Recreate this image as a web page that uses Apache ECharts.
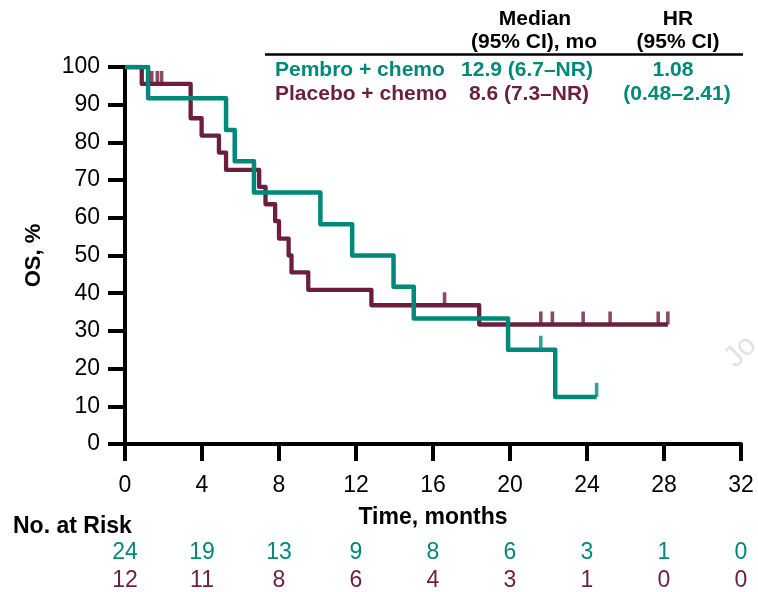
<!DOCTYPE html>
<html>
<head>
<meta charset="utf-8">
<script src="https://cdn.jsdelivr.net/npm/echarts@6/dist/echarts.min.js"></script>
<style>
html,body{margin:0;padding:0;background:#fff;}
#chart{width:758px;height:592px;}
</style>
</head>
<body>
<div id="chart"></div>
<script>
// ---- Data ----
const pembroT = [0, 1.2, 5.25, 5.7, 6.7, 10.15, 11.8, 13.95, 15.0, 19.9, 22.35, 24.5];
const pembroS = [100, 91.7, 83.3, 75.0, 66.7, 58.3, 50.0, 41.7, 33.3, 25.0, 12.5, 12.5];
const pembroCensT = [21.6, 24.5];
const pembroCensS = [25.0, 12.5];

const placeboT = [0, 0.87, 3.41, 3.98, 4.88, 5.25, 6.97, 7.3, 7.8, 8.0, 8.5, 8.65, 9.52, 12.8, 18.4, 28.2];
const placeboS = [100, 95.5, 86.4, 81.8, 77.3, 72.7, 68.2, 63.6, 59.1, 54.5, 50.0, 45.5, 40.9, 36.8, 31.7, 31.7];
const placeboCensT = [1.39, 1.68, 1.9, 16.6, 21.6, 22.2, 23.8, 25.2, 27.7, 28.2];
const placeboCensS = [95.5, 95.5, 95.5, 36.8, 31.7, 31.7, 31.7, 31.7, 31.7, 31.7];

const xTicks = [0, 4, 8, 12, 16, 20, 24, 28, 32];
const riskPembro = [24, 19, 13, 9, 8, 6, 3, 1, 0];
const riskPlacebo = [12, 11, 8, 6, 4, 3, 1, 0, 0];

const seriesNames = ['Pembro + chemo', 'Placebo + chemo'];
const medianText = ['12.9 (6.7\u2013NR)', '8.6 (7.3\u2013NR)'];
const hrText = ['1.08', '(0.48\u20132.41)'];

// ---- Styling ----
const TEAL = '#00897b';
const MAROON = '#6b1f3d';
const FONT = '"Liberation Sans", Arial, Helvetica, sans-serif';

const zip = (a, b) => a.map((v, i) => [v, b[i]]);

const chart = echarts.init(document.getElementById('chart'), null, {renderer: 'canvas'});

function riskAxis(arr, color, offset) {
  return {
    type: 'value', min: 0, max: 32, interval: 4, position: 'bottom', offset: offset,
    axisLine: {show: false}, axisTick: {show: false}, splitLine: {show: false},
    axisLabel: {
      show: true, margin: 0, color: color, fontSize: 23, fontFamily: FONT,
      showMinLabel: true, showMaxLabel: true,
      formatter: v => String(arr[xTicks.indexOf(v)])
    }
  };
}

const axisLineStyle = {color: '#000', width: 4};

const option = {
  animation: false,
  backgroundColor: '#fff',
  grid: {left: 125, right: 17, top: 67, bottom: 144, containLabel: false},
  xAxis: [
    {
      type: 'value', min: 0, max: 32, interval: 4,
      name: 'Time, months', nameLocation: 'middle', nameGap: 62,
      nameTextStyle: {fontSize: 23, fontWeight: 'bold', color: '#000', fontFamily: FONT},
      axisLine: {show: true, lineStyle: axisLineStyle, onZero: false},
      axisTick: {show: true, length: 17, lineStyle: {color: '#000', width: 4}},
      axisLabel: {margin: 30, fontSize: 23, color: '#000', fontFamily: FONT, showMinLabel: true, showMaxLabel: true},
      splitLine: {show: false}
    },
    riskAxis(riskPembro, TEAL, 97),
    riskAxis(riskPlacebo, MAROON, 125)
  ],
  yAxis: {
    type: 'value', min: 0, max: 100, interval: 10,
    name: 'OS, %', nameLocation: 'middle', nameGap: 80, nameRotate: 90,
    nameTextStyle: {fontSize: 22, fontWeight: 'bold', color: '#000', fontFamily: FONT},
    axisLine: {show: true, lineStyle: axisLineStyle, onZero: false},
    axisTick: {show: true, length: 17, lineStyle: {color: '#000', width: 4}},
    axisLabel: {margin: 25, fontSize: 23, color: '#000', fontFamily: FONT},
    splitLine: {show: false}
  },
  series: [
    {
      name: seriesNames[1], type: 'line', step: 'end', xAxisIndex: 0,
      data: zip(placeboT, placeboS), showSymbol: false, symbol: 'none',
      lineStyle: {color: MAROON, width: 4.3, join: 'round'}, z: 3
    },
    {
      name: seriesNames[0], type: 'line', step: 'end', xAxisIndex: 0,
      data: zip(pembroT, pembroS), showSymbol: false, symbol: 'none',
      lineStyle: {color: TEAL, width: 4.5, join: 'round'}, z: 4
    },
    {
      type: 'scatter', xAxisIndex: 0, data: zip(placeboCensT, placeboCensS),
      symbol: 'rect', symbolSize: [3.6, 13], symbolOffset: [0, -6.5],
      itemStyle: {color: MAROON}, z: 5, silent: true
    },
    {
      type: 'scatter', xAxisIndex: 0, data: zip(pembroCensT, pembroCensS),
      symbol: 'rect', symbolSize: [3.6, 14], symbolOffset: [0, -7],
      itemStyle: {color: TEAL}, z: 5, silent: true
    }
  ],
  graphic: [
    // Watermark fragment
    {type: 'text', left: 719, top: 330, rotation: Math.PI / 4, silent: true,
      style: {text: 'Jo', fill: '#e2e2e2', font: '30px ' + FONT}},
    // No. at Risk
    {type: 'text', x: 13, y: 527, style: {text: 'No. at Risk', fill: '#000', font: 'bold 23px ' + FONT, textVerticalAlign: 'middle', textAlign: 'left'}},
    // Table header
    {type: 'text', x: 535, y: 19, style: {text: 'Median', fill: '#000', font: 'bold 21px ' + FONT, textAlign: 'center', textVerticalAlign: 'middle'}},
    {type: 'text', x: 534, y: 42, style: {text: '(95% CI), mo', fill: '#000', font: 'bold 21px ' + FONT, textAlign: 'center', textVerticalAlign: 'middle'}},
    {type: 'text', x: 678, y: 19, style: {text: 'HR', fill: '#000', font: 'bold 21px ' + FONT, textAlign: 'center', textVerticalAlign: 'middle'}},
    {type: 'text', x: 678, y: 42, style: {text: '(95% CI)', fill: '#000', font: 'bold 21px ' + FONT, textAlign: 'center', textVerticalAlign: 'middle'}},
    {type: 'line', shape: {x1: 265, y1: 54.5, x2: 743, y2: 54.5}, style: {stroke: '#000', lineWidth: 2.5}},
    // Rows
    {type: 'text', x: 275, y: 70, style: {text: seriesNames[0], fill: TEAL, font: 'bold 21px ' + FONT, textAlign: 'left', textVerticalAlign: 'middle'}},
    {type: 'text', x: 527, y: 70, style: {text: medianText[0], fill: TEAL, font: 'bold 21px ' + FONT, textAlign: 'center', textVerticalAlign: 'middle'}},
    {type: 'text', x: 673, y: 70, style: {text: hrText[0], fill: TEAL, font: 'bold 21px ' + FONT, textAlign: 'center', textVerticalAlign: 'middle'}},
    {type: 'text', x: 275, y: 94, style: {text: seriesNames[1], fill: MAROON, font: 'bold 21px ' + FONT, textAlign: 'left', textVerticalAlign: 'middle'}},
    {type: 'text', x: 529, y: 94, style: {text: medianText[1], fill: MAROON, font: 'bold 21px ' + FONT, textAlign: 'center', textVerticalAlign: 'middle'}},
    {type: 'text', x: 677, y: 94, style: {text: hrText[1], fill: TEAL, font: 'bold 21px ' + FONT, textAlign: 'center', textVerticalAlign: 'middle'}}
  ]
};

chart.setOption(option);
</script>
</body>
</html>
